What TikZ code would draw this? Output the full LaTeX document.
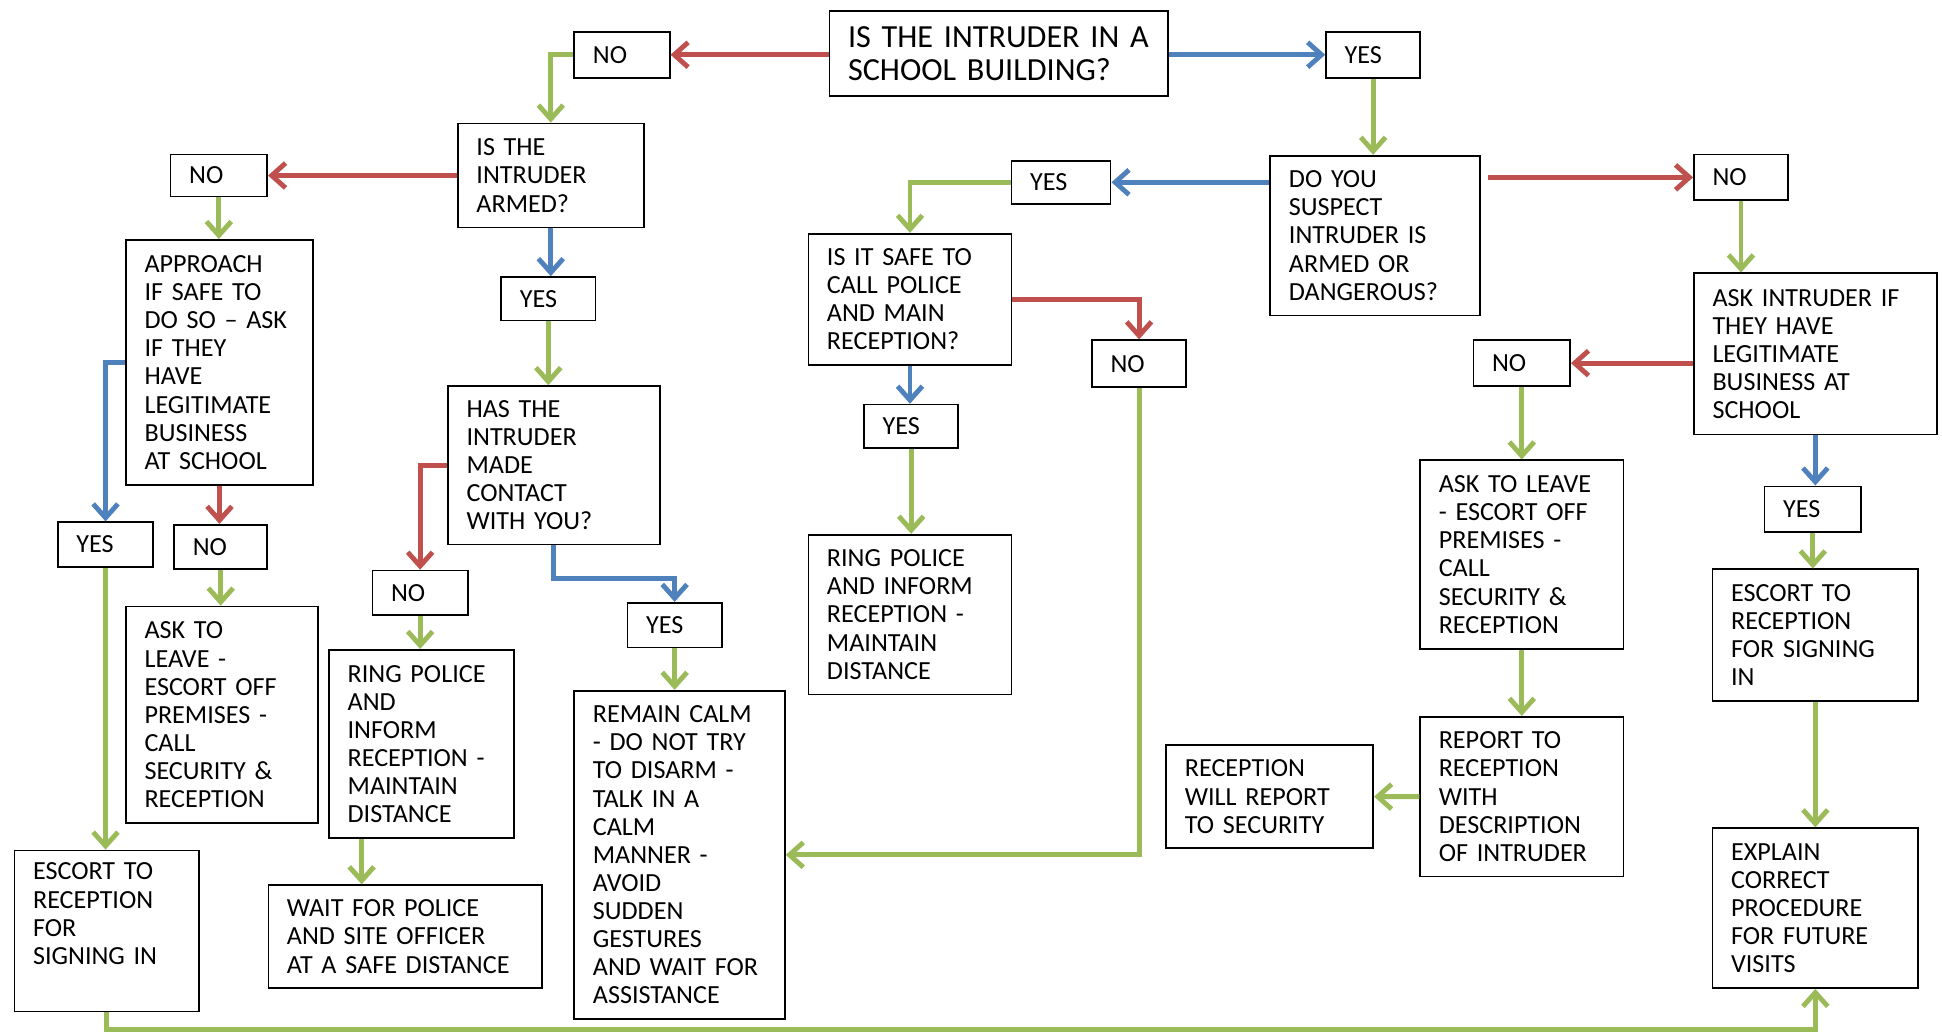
\documentclass[tikz,border=0pt]{standalone}
\usepackage{fontspec}
\setmainfont{Carlito}
\usepackage{xcolor}
\usetikzlibrary{arrows.meta}

\definecolor{cred}{RGB}{192,80,77}
\definecolor{cblue}{RGB}{79,129,189}
\definecolor{cgreen}{RGB}{155,187,89}

\tikzset{
  box/.style={draw, line width=1pt, anchor=north west, align=left,
    inner xsep=0.375cm, inner ysep=0pt, font=\fontsize{15}{16.15}\selectfont},
  arr/.style={line width=2.8pt, -{Straight Barb[length=0.28cm,width=0.5cm]}},
  redarr/.style={arr, draw=cred},
  bluearr/.style={arr, draw=cblue},
  greenarr/.style={arr, draw=cgreen}
}

\begin{document}
\begin{tikzpicture}[x=0.025cm, y=-0.025cm]
            \useasboundingbox (0,0) rectangle (1568,834);

            \node[box, text width=6.075cm, minimum height=1.725cm, font=\fontsize{18.5}{18.6}\selectfont] (q0) at (669,8) {IS THE INTRUDER IN A\\SCHOOL BUILDING?};
            \node[box, text width=1.175cm, minimum height=0.925cm] (n0) at (463,25) {NO};
            \node[box, text width=1.15cm, minimum height=0.925cm] (y0) at (1070,25) {YES};

            \node[box, text width=3cm, minimum height=2.1cm] (armed) at (369,99) {IS THE\\INTRUDER\\ARMED?};
            \node[box, text width=1.2cm, minimum height=0.85cm] (noArm) at (137,124) {NO};
            \node[box, text width=3.025cm, minimum height=4.95cm] (approach) at (101,193) {APPROACH\\IF SAFE TO\\DO SO – ASK\\IF THEY\\HAVE\\LEGITIMATE\\BUSINESS\\AT SCHOOL};
            \node[box, text width=1.15cm, minimum height=0.875cm] (yesArm) at (404,223) {YES};
            \node[box, text width=3.525cm, minimum height=3.2cm] (contact) at (361,311) {HAS THE\\INTRUDER\\MADE\\CONTACT\\WITH YOU?};

            \node[box, text width=1.175cm, minimum height=0.9cm] (yesApp) at (46,421) {YES};
            \node[box, text width=1.125cm, minimum height=0.9cm] (noApp) at (140,423) {NO};
            \node[box, text width=3.125cm, minimum height=4.375cm] (leaveL) at (101,489) {ASK TO\\LEAVE -\\ESCORT OFF\\PREMISES -\\CALL\\SECURITY \&\\RECEPTION};
            \node[box, text width=2.975cm, minimum height=3.25cm] (escortL) at (11,686) {ESCORT TO\\RECEPTION\\FOR\\SIGNING IN\rule[-0.7cm]{0pt}{0pt}};

            \node[box, text width=1.175cm, minimum height=0.9cm] (noCon) at (300,460) {NO};
            \node[box, text width=2.975cm, minimum height=3.8cm] (ringL) at (265,524) {RING POLICE\\AND\\INFORM\\RECEPTION -\\MAINTAIN\\DISTANCE};
            \node[box, text width=4.775cm, minimum height=2.075cm] (wait) at (216,714) {WAIT FOR POLICE\\AND SITE OFFICER\\AT A SAFE DISTANCE};
            \node[box, text width=1.15cm, minimum height=0.9cm] (yesCon) at (506,486) {YES};
            \node[box, text width=3.5cm, minimum height=6.625cm] (calm) at (463,557) {REMAIN CALM\\- DO NOT TRY\\TO DISARM -\\TALK IN A\\CALM\\MANNER -\\AVOID\\SUDDEN\\GESTURES\\AND WAIT FOR\\ASSISTANCE};

            \node[box, text width=3.475cm, minimum height=3.225cm] (suspect) at (1025,125) {DO YOU\\SUSPECT\\INTRUDER IS\\ARMED OR\\DANGEROUS?};
            \node[box, text width=1.25cm, minimum height=0.875cm] (yesSus) at (816,129) {YES};
            \node[box, text width=3.35cm, minimum height=2.65cm] (safe) at (652,188) {IS IT SAFE TO\\CALL POLICE\\AND MAIN\\RECEPTION?};
            \node[box, text width=1.15cm, minimum height=0.95cm] (noSafe) at (881,274) {NO};
            \node[box, text width=1.15cm, minimum height=0.875cm] (yesSafe) at (697,326) {YES};
            \node[box, text width=3.35cm, minimum height=3.225cm] (ringM) at (652,431) {RING POLICE\\AND INFORM\\RECEPTION -\\MAINTAIN\\DISTANCE};

            \node[box, text width=1.15cm, minimum height=0.925cm] (noSus) at (1367,124) {NO};
            \node[box, text width=4.15cm, minimum height=3.25cm] (ask) at (1367,220) {ASK INTRUDER IF\\THEY HAVE\\LEGITIMATE\\BUSINESS AT\\SCHOOL};
            \node[box, text width=1.2cm, minimum height=0.925cm] (noAsk) at (1189,274) {NO};
            \node[box, text width=1.2cm, minimum height=0.925cm] (yesAsk) at (1424,392) {YES};
            \node[box, text width=3.35cm, minimum height=3.8cm] (leaveR) at (1146,371) {ASK TO LEAVE\\- ESCORT OFF\\PREMISES -\\CALL\\SECURITY \&\\RECEPTION};
            \node[box, text width=3.4cm, minimum height=2.65cm] (escortR) at (1382,459) {ESCORT TO\\RECEPTION\\FOR SIGNING\\IN};
            \node[box, text width=3.35cm, minimum height=3.225cm] (report) at (1146,578) {REPORT TO\\RECEPTION\\WITH\\DESCRIPTION\\OF INTRUDER};
            \node[box, text width=3.425cm, minimum height=2.075cm] (recep) at (941,601) {RECEPTION\\WILL REPORT\\TO SECURITY};
            \node[box, text width=3.4cm, minimum height=3.225cm] (explain) at (1382,668) {EXPLAIN\\CORRECT\\PROCEDURE\\FOR FUTURE\\VISITS};

            \draw[redarr] (q0.west |- n0) -- (n0.east);
            \draw[bluearr] (q0.east |- y0) -- (y0.west);

            \draw[greenarr] (n0.west) -| (armed.north);
            \draw[redarr] (armed.west) -- (noArm.east);
            \draw[bluearr] (armed.south) -- (armed.south |- yesArm.north);
            \draw[greenarr] (noArm.south) -- (noArm.south |- approach.north);
            \draw[greenarr] (yesArm.south) -- (yesArm.south |- contact.north);
            \draw[bluearr] (approach.west) -| (yesApp.north);
            \draw[redarr] (approach.south) -- (approach.south |- noApp.north);
            \draw[greenarr] (noApp.south) -- (noApp.south |- leaveL.north);
            \draw[greenarr] (yesApp.south) -- (yesApp.south |- escortL.north);
            \draw[greenarr] (escortL.south) -- ++(0,14) -| (explain.south);

            \draw[redarr] (contact.west) -| (noCon.north);
            \draw[bluearr] (contact.south) -- ++(0,27) -| (yesCon.north);
            \draw[greenarr] (noCon.south) -- (noCon.south |- ringL.north);
            \draw[greenarr] (yesCon.south) -- (yesCon.south |- calm.north);
            \draw[greenarr] ([xshift=0.675cm]ringL.south west) -- ([xshift=0.675cm]ringL.south west |- wait.north);

            \draw[greenarr] (y0.south) -- (y0.south |- suspect.north);
            \draw[bluearr] (suspect.west |- yesSus) -- (yesSus.east);
            \draw[redarr] ([xshift=0.15cm]suspect.east |- noSus) -- (noSus.west);
            \draw[greenarr] (yesSus.west) -| (safe.north);
            \draw[redarr] (safe.east) -| (noSafe.north);
            \draw[bluearr] (safe.south) -- (safe.south |- yesSafe.north);
            \draw[greenarr] (yesSafe.south) -- (yesSafe.south |- ringM.north);
            \draw[greenarr] (noSafe.south) |- (calm.east);

            \draw[greenarr] (noSus.south) -- (noSus.south |- ask.north);
            \draw[redarr] (ask.west |- noAsk) -- (noAsk.east);
            \draw[bluearr] (ask.south) -- (ask.south |- yesAsk.north);
            \draw[greenarr] (noAsk.south) -- (noAsk.south |- leaveR.north);
            \draw[greenarr] (yesAsk.south) -- (yesAsk.south |- escortR.north);
            \draw[greenarr] (leaveR.south) -- (report.north);
            \draw[greenarr] (report.west) -- (recep.east);
            \draw[greenarr] (escortR.south) -- (explain.north);
        \end{tikzpicture}
\end{document}
